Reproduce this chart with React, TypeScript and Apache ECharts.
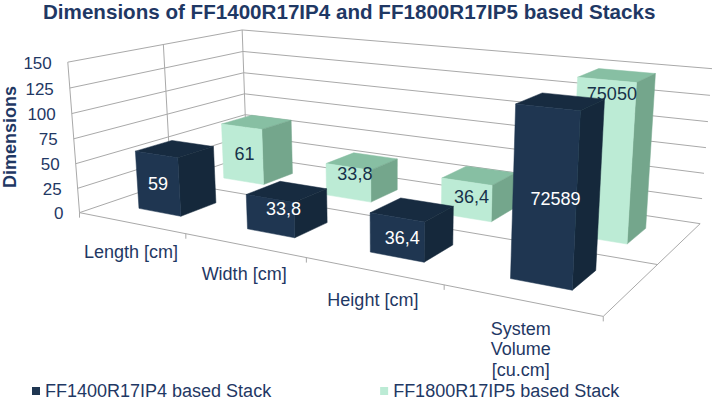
import React, { useEffect, useRef } from "react";
import * as echarts from "echarts";

const titleText = "Dimensions of FF1400R17IP4 and FF1800R17IP5 based Stacks";
const axisName = "Dimensions";
const categories = ["Length [cm]", "Width [cm]", "Height [cm]", "System\nVolume\n[cu.cm]"];
const valueTicks = [0, 25, 50, 75, 100, 125, 150];
const seriesNameA = "FF1400R17IP4 based Stack";
const seriesNameB = "FF1800R17IP5 based Stack";
const heightsA = [59, 33.8, 36.4, 147];
const heightsB = [61, 33.8, 36.4, 148];
const labelsA = ["59", "33,8", "36,4", "72589"];
const labelsB = ["61", "33,8", "36,4", "75050"];
// where each data label sits on the front face of its bar (0..1 across, 0..1 up)
const labelAcrossA = [0.5, 0.78, 0.6, 0.68];
const labelUpA = [0.5, 0.76, 0.5, 0.5];
const labelAcrossB = [0.55, 0.65, 0.6, 0.6];
const labelUpB = [0.5, 0.8, 0.6, 0.92];

const FONT = "'Liberation Sans', Arial, sans-serif";
const TEXT = "#1F3864";
const GRID = "#A9A9A9";
const G = { left: 20, top: 37, width: 600, height: 200 };

// Perspective camera fitted to the frame of the plot: (across, depth, height) -> screen
const anchors: number[][] = [
  [0, 0, 0, 79, 212],
  [0.25, 0, 0, 186, 233],
  [0.5, 0, 0, 307, 257.5],
  [0.75, 0, 0, 443, 285],
  [1, 0, 0, 604, 317],
  [0, 1, 0, 247, 157],
  [1, 1, 0, 700, 223],
  [0, 0, 1, 68, 63],
  [0, 1, 1, 242, 29],
  [1, 1, 1, 712, 69],
];

function fitCamera(): number[] {
  const n = 11;
  const M = Array.from({ length: n }, () => new Array(n + 1).fill(0));
  const add = (r: number[], t: number) => {
    for (let a = 0; a < n; a++) {
      for (let b = 0; b < n; b++) M[a][b] += r[a] * r[b];
      M[a][n] += r[a] * t;
    }
  };
  for (const [u, v, h, x, y] of anchors) {
    add([u, v, h, 1, 0, 0, 0, 0, -x * u, -x * v, -x * h], x);
    add([0, 0, 0, 0, u, v, h, 1, -y * u, -y * v, -y * h], y);
  }
  for (let c = 0; c < n; c++) {
    let p = c;
    for (let r = c + 1; r < n; r++) if (Math.abs(M[r][c]) > Math.abs(M[p][c])) p = r;
    [M[c], M[p]] = [M[p], M[c]];
    for (let r = 0; r < n; r++) {
      if (r === c) continue;
      const f = M[r][c] / M[c][c];
      for (let k = c; k <= n; k++) M[r][k] -= f * M[c][k];
    }
  }
  return M.map((row, i) => row[n] / row[i]);
}
const P = fitCamera();
const project = (u: number, v: number, h: number): number[] => {
  const w = P[8] * u + P[9] * v + P[10] * h + 1;
  return [
    (P[0] * u + P[1] * v + P[2] * h + P[3]) / w,
    (P[4] * u + P[5] * v + P[6] * h + P[7]) / w,
  ];
};
const toU = (px: number) => (px - G.left) / G.width;
const toH = (py: number) => (G.top + G.height - py) / G.height;
const line = (pts: number[][]) => ({
  type: "polyline",
  shape: { points: pts },
  style: { stroke: GRID, lineWidth: 1, fill: "none" },
  silent: true,
});
const maxTick = valueTicks[valueTicks.length - 1];

function renderFrame(params: any, api: any) {
  const h = toH(api.coord([0, api.value(1)])[1]);
  const kids: any[] = [line([project(0, 0, h), project(0, 1, h), project(1, 1, h)])];
  const a = project(0, 0, h);
  kids.push({
    type: "text",
    style: {
      text: String(api.value(1)),
      x: a[0] - 16,
      y: a[1] + 1,
      align: "right",
      verticalAlign: "middle",
      fill: TEXT,
      fontSize: 17,
      fontFamily: FONT,
    },
  });
  if (api.value(1) === 0) {
    for (const v of [0, 0.5, 1]) kids.push(line([project(0, v, 0), project(0, v, 1)]));
    kids.push(line([project(0, 0, 0), project(1, 0, 0)]));
    kids.push(line([project(0, 0.5, 0), project(1, 0.5, 0)]));
    kids.push(line([project(1, 0, 0), project(1, 1, 0)]));
    const t = project(0, 0, 0);
    kids.push(line([t, [t[0], t[1] + 5]]));
  }
  return { type: "group", children: kids };
}

function renderCategory(params: any, api: any) {
  const i = params.dataIndex;
  const c = api.coord([api.value(0), 0]);
  const band = api.size([1, 0])[0];
  const mid = project(toU(c[0]), 0, 0);
  const edge = project(toU(c[0] + band / 2), 0, 0);
  return {
    type: "group",
    children: [
      line([edge, [edge[0], edge[1] + 5]]),
      {
        type: "text",
        style: {
          text: categories[i],
          x: mid[0],
          y: mid[1] + 18.5,
          align: "center",
          verticalAlign: "top",
          fill: TEXT,
          fontSize: 18,
          lineHeight: 20.5,
          fontFamily: FONT,
        },
      },
    ],
  };
}

const barRenderer = (
  depth: number,
  labels: string[],
  across: number[],
  up: number[],
  front: string,
  top: string,
  side: string,
  textFill: string
) => (params: any, api: any) => {
  const c = api.coord([api.value(0), api.value(1)]);
  const band = api.size([1, 0])[0];
  const u = toU(c[0]);
  const du = (band / G.width) * 0.2;
  const dv = 0.1;
  const h = toH(c[1]);
  const u0 = u - du, u1 = u + du, v0 = depth - dv, v1 = depth + dv;
  const poly = (pts: number[][], fill: string) => ({
    type: "polygon",
    shape: { points: pts },
    style: { fill, stroke: fill, lineWidth: 0.5 },
  });
  const i = params.dataIndex;
  const center = project(u0 + (u1 - u0) * across[i], v0, h * up[i]);
  return {
    type: "group",
    children: [
      poly([project(u0, v0, h), project(u1, v0, h), project(u1, v1, h), project(u0, v1, h)], top),
      poly([project(u1, v0, 0), project(u1, v1, 0), project(u1, v1, h), project(u1, v0, h)], side),
      poly([project(u0, v0, 0), project(u1, v0, 0), project(u1, v0, h), project(u0, v0, h)], front),
      {
        type: "text",
        style: {
          text: labels[i],
          x: center[0],
          y: center[1],
          align: "center",
          verticalAlign: "middle",
          fill: textFill,
          fontSize: 18,
          fontFamily: FONT,
        },
      },
    ],
  };
};

export default function App() {
  const ref = useRef<HTMLDivElement>(null);
  useEffect(() => {
    const chart = echarts.init(ref.current!, null, { renderer: "svg" });
    chart.setOption({
      animation: false,
      backgroundColor: "#fff",
      title: {
        text: titleText,
        left: 43,
        top: 1,
        padding: 0,
        textStyle: { color: TEXT, fontSize: 20.6, fontWeight: "bold", fontFamily: FONT },
      },
      legend: {
        left: 27,
        top: 377,
        itemWidth: 8,
        itemHeight: 8,
        itemGap: 109,
        selectedMode: false,
        textStyle: { color: TEXT, fontSize: 18, fontFamily: FONT },
        data: [
          { name: seriesNameA, icon: "rect" },
          { name: seriesNameB, icon: "rect" },
        ],
      },
      grid: { ...G, containLabel: false, outerBoundsMode: "none" },
      xAxis: { type: "category", data: categories, show: false },
      yAxis: {
        type: "value",
        min: 0,
        max: maxTick,
        interval: 25,
        name: axisName,
        nameLocation: "middle",
        nameRotate: 90,
        nameGap: 1,
        nameTextStyle: { color: TEXT, fontSize: 18, fontWeight: "bold", fontFamily: FONT },
        axisLine: { show: false },
        axisTick: { show: false },
        axisLabel: { show: false },
        splitLine: { show: false },
      },
      series: [
        {
          type: "custom",
          silent: true,
          z: 1,
          renderItem: renderFrame,
          data: valueTicks.map((t) => [0, t]),
        },
        {
          type: "custom",
          silent: true,
          z: 1,
          renderItem: renderCategory,
          data: categories.map((_, i) => [i, 0]),
        },
        {
          name: seriesNameB,
          type: "custom",
          silent: true,
          z: 2,
          itemStyle: { color: "#BCEBD5" },
          renderItem: barRenderer(0.75, labelsB, labelAcrossB, labelUpB, "#BCEBD5", "#87BFA3", "#74A68C", "#17324A"),
          data: heightsB.map((v, i) => [i, v]),
        },
        {
          name: seriesNameA,
          type: "custom",
          silent: true,
          z: 3,
          itemStyle: { color: "#1F3651" },
          renderItem: barRenderer(0.25, labelsA, labelAcrossA, labelUpA, "#1F3651", "#172B40", "#15283B", "#FFFFFF"),
          data: heightsA.map((v, i) => [i, v]),
        },
      ],
    });
    return () => chart.dispose();
  }, []);
  return <div ref={ref} style={{ width: 716, height: 400, position: "fixed", left: 0, top: 0 }} />;
}
